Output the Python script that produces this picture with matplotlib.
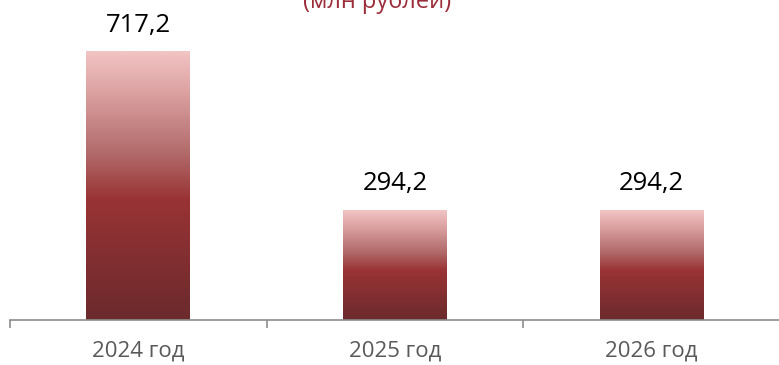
import numpy as np
import matplotlib
matplotlib.use('Agg')
import matplotlib.pyplot as plt
from matplotlib.colors import LinearSegmentedColormap

# data
categories = ['2024 год', '2025 год', '2026 год']
values = [717.2, 294.2, 294.2]
value_labels = ['717,2', '294,2', '294,2']
title = '(млн рублей)'

plt.rcParams['font.family'] = ['Open Sans', 'DejaVu Sans']

W, H = 779, 365
fig = plt.figure(figsize=(W / 100, H / 100), dpi=100)
ax = fig.add_axes([10 / W, 45 / H, 770 / W, 320 / H])

# bar gradient, light on top, dark at bottom
grad = LinearSegmentedColormap.from_list(
    'bar', [(0.0, '#6b2a2c'), (0.45, '#993335'), (0.62, '#b26a6a'),
            (0.85, '#dca2a2'), (1.0, '#f2c4c4')])
g = np.linspace(0, 1, 256).reshape(-1, 1)

bar_w = 0.405
x = np.arange(len(categories))
for xi, v, lab in zip(x, values, value_labels):
    ax.imshow(g, cmap=grad, origin='lower', aspect='auto',
              extent=[xi - bar_w / 2, xi + bar_w / 2, 0, v], zorder=2)
    ax.annotate(lab, (xi, v), xytext=(0, 10), textcoords='offset points',
                ha='center', va='bottom', fontsize=18.5, color='black')

ax.set_xlim(-0.5, len(categories) - 0.5)
ax.set_ylim(0, 856)

for s in ['top', 'right', 'left']:
    ax.spines[s].set_visible(False)
ax.spines['bottom'].set_color('#8c8c8c')
ax.spines['bottom'].set_linewidth(1.2)
ax.set_yticks([])

ax.set_xticks(x)
ax.set_xticklabels(categories, fontsize=16, color='#595959')
ax.tick_params(axis='x', which='major', length=0, pad=15)
ax.set_xticks(np.arange(len(categories) + 1) - 0.5, minor=True)
ax.tick_params(axis='x', which='minor', length=6, width=1.2,
               color='#8c8c8c')

fig.text(377 / W, 1 - 8 / H, title, ha='center', va='baseline',
         fontsize=17, color='#9b2d3a')

fig.savefig('out.png', dpi=100)
